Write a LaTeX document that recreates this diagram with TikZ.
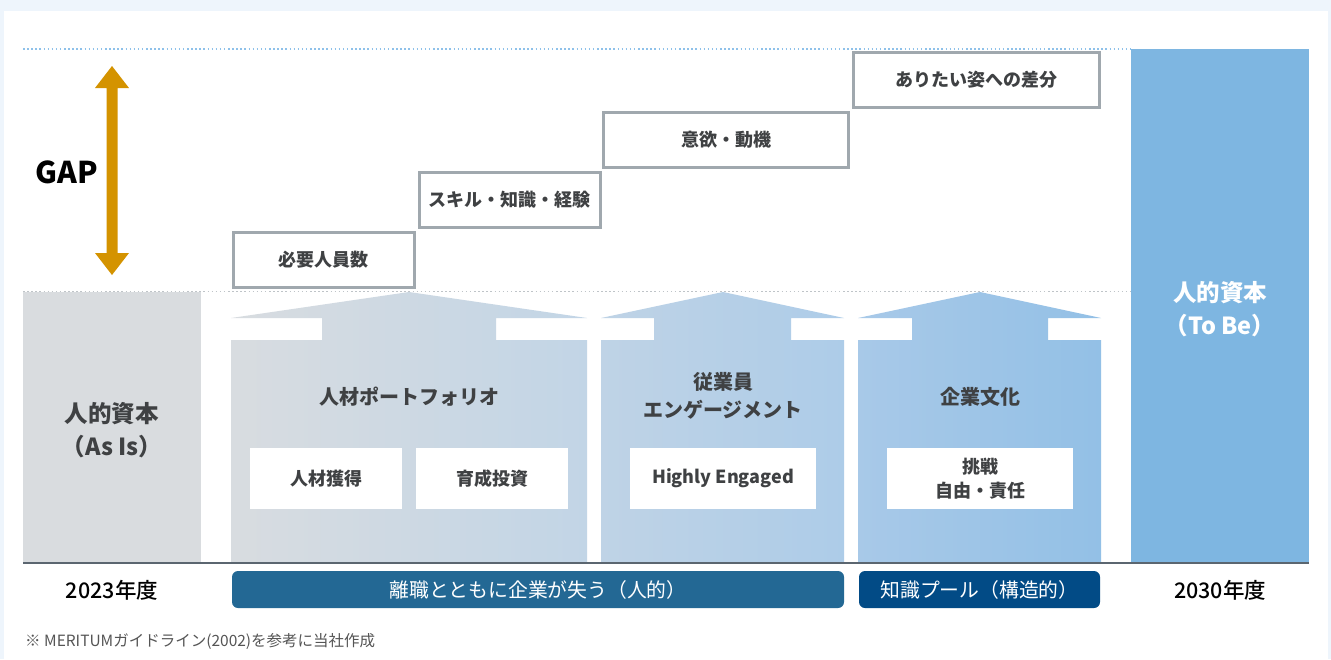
\documentclass[tikz,border=0pt]{standalone}
\usepackage{fontspec}
\setmainfont{Noto Sans CJK JP}
\newfontfamily\jpmed{Noto Sans CJK JP Medium}
\definecolor{outerbg}{HTML}{EEF5FC}
\definecolor{boxgray}{HTML}{A0A8AE}
\definecolor{txtdark}{HTML}{3F4143}
\definecolor{gapgold}{HTML}{D49300}
\definecolor{asis}{HTML}{D9DCDF}
\definecolor{tobe}{HTML}{7EB6E1}
\definecolor{baseln}{HTML}{5B6670}
\definecolor{barone}{HTML}{236894}
\definecolor{bartwo}{HTML}{024B86}
\definecolor{dotblue}{HTML}{8EC1EA}
\definecolor{dotgray}{HTML}{BFC4C8}
\definecolor{hOneL}{HTML}{D8DCE0}
\definecolor{hOneR}{HTML}{C2D5E6}
\definecolor{hTwoL}{HTML}{BFD3E6}
\definecolor{hTwoR}{HTML}{ADCCE8}
\definecolor{hThrL}{HTML}{A8C9E8}
\definecolor{hThrR}{HTML}{93C0E6}
\definecolor{footgray}{HTML}{555555}
\begin{document}
\begin{tikzpicture}[x=1pt,y=-1pt,
  stairbox/.style={draw=boxgray, line width=3pt, fill=white, minimum height=55pt, inner sep=0pt,
    font=\fontsize{18}{20}\selectfont\bfseries, text=txtdark},
  innerbox/.style={fill=white, minimum height=61pt, inner sep=0pt,
    font=\fontsize{18}{24}\selectfont\bfseries, text=txtdark, align=center},
  housetitle/.style={font=\fontsize{20}{28}\selectfont\bfseries, text=txtdark, align=center, inner sep=0pt},
  coltitle/.style={font=\fontsize{23.5}{33}\selectfont\bfseries, align=center, inner sep=0pt},
  barlabel/.style={rounded corners=6pt, minimum height=37pt, inner sep=0pt, text=white,
    font=\fontsize{19.8}{22}\selectfont},
  yearlabel/.style={font=\fontsize{21.5}{24}\selectfont\jpmed, text=black, inner sep=0pt},
  dotline/.style={line width=1.5pt, dash pattern=on 1.5pt off 2.6pt}
]
\useasboundingbox (0,0) rectangle (1331,659);
\fill[outerbg] (0,0) rectangle (1331,659);
\fill[white] (4,11) rectangle (1328,659);

% dotted guide lines
\draw[dotline, dotblue] (23,49) -- (1131,49);
\draw[dotline, dotgray] (23,291.5) -- (1131,291.5);

% columns
\fill[asis] (23,292) rectangle (201,563);
\fill[tobe] (1131,49) rectangle (1309,563);

% houses
\shade[left color=hOneL, right color=hOneR]
  (231,563) -- (231,340) -- (322,340) -- (322,318) -- (231,318) -- (409,292) -- (587,318)
  -- (496,318) -- (496,340) -- (587,340) -- (587,563) -- cycle;
\shade[left color=hTwoL, right color=hTwoR]
  (601,563) -- (601,340) -- (654,340) -- (654,318) -- (601,318) -- (723,292) -- (844,318)
  -- (791,318) -- (791,340) -- (844,340) -- (844,563) -- cycle;
\shade[left color=hThrL, right color=hThrR]
  (858,563) -- (858,340) -- (912,340) -- (912,318) -- (858,318) -- (980,292) -- (1101,318)
  -- (1048,318) -- (1048,340) -- (1101,340) -- (1101,563) -- cycle;

% baseline
\draw[baseln, line width=1.5pt] (23,563) -- (1309,563);

% GAP arrow
\fill[gapgold] (112,66) -- (129,88) -- (117.5,88) -- (117.5,253) -- (129,253) -- (112,275)
  -- (95,253) -- (106.5,253) -- (106.5,88) -- (95,88) -- cycle;
\node[font=\fontsize{30}{32}\selectfont\bfseries, inner sep=0pt] (gap) at (67,172) {GAP};

% stair boxes
\node[stairbox, minimum width=181pt] (s1) at (323.5,260) {必要人員数};
\node[stairbox, minimum width=181pt] (s2) at (509.5,199.5) {スキル・知識・経験};
\node[stairbox, minimum width=245pt] (s3) at (726,139.5) {意欲・動機};
\node[stairbox, minimum width=246pt] (s4) at (976,79.5) {ありたい姿への差分};

% column titles
\node[coltitle, text=txtdark] (asis) at (112,430) {人的資本\\（As Is）};
\node[coltitle, text=white] (tobe) at (1220,309) {人的資本\\（To Be）};

% house titles
\node[housetitle] (h1t) at (409,397) {人材ポートフォリオ};
\node[housetitle] (h2t) at (723,396) {従業員\\エンゲージメント};
\node[housetitle] (h3t) at (980,397) {企業文化};

% inner boxes
\node[innerbox, minimum width=152pt] (h1a) at (326,478.5) {人材獲得};
\node[innerbox, minimum width=152pt] (h1b) at (492,478.5) {育成投資};
\node[innerbox, minimum width=186pt] (h2a) at (723,478.5) {Highly Engaged};
\node[innerbox, minimum width=186pt] (h3a) at (980,478.5) {挑戦\\自由・責任};

% bottom row
\node[yearlabel] (y1) at (112,590) {2023年度};
\node[yearlabel] (y2) at (1220,590) {2030年度};
\node[barlabel, fill=barone, minimum width=612pt] (b1) at (538,589.5) {離職とともに企業が失う（人的）};
\node[barlabel, fill=bartwo, minimum width=241pt] (b2) at (979.5,589.5) {知識プール（構造的）};

% footnote
\node[anchor=west, inner sep=0pt, text=footgray, font=\fontsize{15.5}{17}\selectfont] (foot) at (25,641)
  {※ MERITUMガイドライン(2002)を参考に当社作成};
\end{tikzpicture}
\end{document}
